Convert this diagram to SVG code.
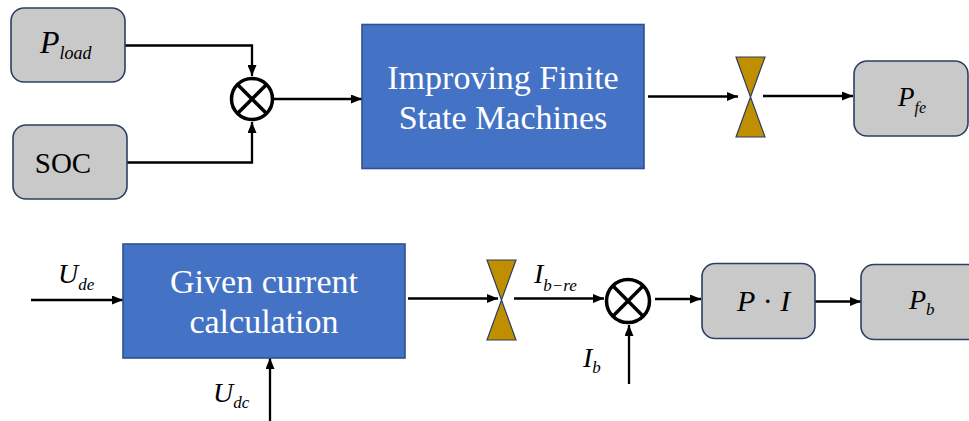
<svg xmlns="http://www.w3.org/2000/svg" width="969" height="421" viewBox="0 0 969 421">
<style>
.gray{fill:#C9C9C9;stroke:#2B3F63;stroke-width:1.6}
.blue{fill:#4472C4;stroke:#2F528F;stroke-width:1.6}
.bow{fill:#BF8F00;stroke:#2B3F63;stroke-width:1.2}
.sum{fill:#FFFFFF;stroke:#000000;stroke-width:3.5}
.x{stroke:#000000;stroke-width:3.5}
.ln{fill:none;stroke:#000000;stroke-width:2.3}
.ar{marker-end:url(#arr)}
text{font-family:"Liberation Serif","Times New Roman",serif}
.bt{font-size:34px;fill:#FFFFFF;text-anchor:middle}
.rm{fill:#000000}
.it{font-style:italic;fill:#000000}
</style>
<defs>
<marker id="arr" markerUnits="userSpaceOnUse" markerWidth="11" markerHeight="9" refX="11" refY="4.5" orient="auto">
<path d="M0,0 L11,4.5 L0,9 Z" fill="#000000"/>
</marker>
</defs>

<g id="connectors">
<path class="ln ar" d="M125,45.5 H252 V76"/>
<path class="ln ar" d="M127,162.5 H252 V122"/>
<path class="ln ar" d="M274,99 H362"/>
<path class="ln ar" d="M648,96.5 H738"/>
<path class="ln ar" d="M763,96 H853"/>
<path class="ln ar" d="M31,300 H123"/>
<path class="ln ar" d="M270,421 V358"/>
<path class="ln ar" d="M408,298.5 H498"/>
<path class="ln ar" d="M514,298.5 H604"/>
<path class="ln ar" d="M629,384 V325"/>
<path class="ln ar" d="M655,299 H701"/>
<path class="ln ar" d="M815,301.5 H861"/>
</g>

<g id="p_load">
<rect class="gray" x="11" y="8" width="114" height="74" rx="13"/>
<text class="it" x="40" y="53" font-size="32">P<tspan dy="6" font-size="18">load</tspan></text>
</g>

<g id="soc">
<rect class="gray" x="13" y="125" width="114" height="74" rx="13"/>
<text class="rm" x="63" y="173" font-size="29" text-anchor="middle">SOC</text>
</g>

<g id="mult1">
<circle class="sum" cx="252" cy="99" r="20.5"/>
<line class="x" x1="237.5" y1="84.5" x2="266.5" y2="113.5"/>
<line class="x" x1="266.5" y1="84.5" x2="237.5" y2="113.5"/>
</g>

<g id="fsm">
<rect class="blue" x="362" y="24.5" width="282" height="144"/>
<text class="bt" x="503" y="89">Improving Finite</text>
<text class="bt" x="503" y="129">State Machines</text>
</g>

<g id="limiter1">
<path class="bow" d="M736,57 H765 L736,137 H765 Z"/>
</g>

<g id="p_fe">
<rect class="gray" x="854" y="61" width="114" height="75" rx="13"/>
<text class="it" x="898" y="106" font-size="27">P<tspan dy="7" font-size="16">fe</tspan></text>
</g>

<g id="u_de">
<text class="it" x="58" y="283" font-size="28">U<tspan dy="7" font-size="17">de</tspan></text>
</g>

<g id="given">
<rect class="blue" x="123" y="244" width="282" height="114"/>
<text class="bt" x="264" y="293">Given current</text>
<text class="bt" x="264" y="333">calculation</text>
</g>

<g id="u_dc">
<text class="it" x="213" y="402" font-size="28">U<tspan dy="6" font-size="17">dc</tspan></text>
</g>

<g id="limiter2">
<path class="bow" d="M487,260 H516 L487,340 H516 Z"/>
</g>

<g id="i_bre">
<text class="it" x="534" y="283" font-size="28">I<tspan dy="8" font-size="17">b−re</tspan></text>
</g>

<g id="mult2">
<circle class="sum" cx="628" cy="301" r="21.5"/>
<line class="x" x1="612.8" y1="285.8" x2="643.2" y2="316.2"/>
<line class="x" x1="643.2" y1="285.8" x2="612.8" y2="316.2"/>
</g>

<g id="i_b">
<text class="it" x="583" y="367" font-size="28">I<tspan dy="6" font-size="17">b</tspan></text>
</g>

<g id="pi">
<rect class="gray" x="702" y="263.5" width="113" height="75" rx="13"/>
<text class="it" font-size="30" x="737" y="311">P<tspan font-style="normal"> · </tspan>I</text>
</g>

<g id="p_b">
<rect class="gray" x="861" y="264.5" width="120" height="75" rx="13"/>
<text class="it" x="909" y="309" font-size="28">P<tspan dy="6" font-size="17">b</tspan></text>
</g>
</svg>
